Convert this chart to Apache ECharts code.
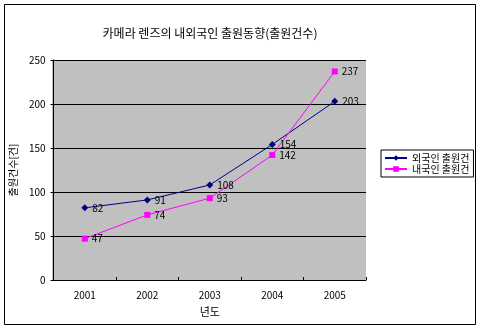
<!DOCTYPE html>
<html><head><meta charset="utf-8">
<script src="https://cdn.jsdelivr.net/npm/echarts@6/dist/echarts.min.js"></script>
<style>html,body{margin:0;padding:0;background:#fff}#c{width:480px;height:329px}</style>
</head><body><div id="c"></div>
<script>
const categories = ['2001','2002','2003','2004','2005'];
const foreignApps = [82, 91, 108, 154, 203];
const domesticApps = [47, 74, 93, 142, 237];
const seriesNames = ['외국인 출원건', '내국인 출원건'];
const titleText = '카메라 렌즈의 내외국인 출원동향(출원건수)';
const yName = '출원건수[건]';
const xName = '년도';

const font = "'Noto Sans CJK KR', 'DejaVu Sans', sans-serif";
const chart = echarts.init(document.getElementById('c'));
chart.setOption({
  animation: false,
  textStyle: {fontFamily: font},
  title: {text: titleText, left: 205, top: 22, textAlign: 'center',
    textStyle: {fontSize: 12, fontWeight: 'normal', color: '#000', fontFamily: font}},
  grid: {left: 52, top: 60, width: 314, height: 220},
  legend: {
    left: 381, top: 150, orient: 'vertical', itemGap: 1, itemWidth: 22, itemHeight: 7,
    padding: [3, 4, 3, 3], borderColor: '#000', borderWidth: 1, backgroundColor: '#fff',
    textStyle: {fontSize: 10, color: '#000'},
    data: seriesNames
  },
  graphic: [{type: 'rect', shape: {x: 4.5, y: 4.5, width: 471, height: 320},
    style: {fill: null, stroke: '#000', lineWidth: 1}, silent: true, z: -10},
    {type: 'rect', shape: {x: 52, y: 60, width: 314, height: 220},
    style: {fill: '#c0c0c0'}, silent: true, z: -5}],
  xAxis: {
    type: 'category', data: categories, boundaryGap: true,
    name: xName, nameLocation: 'middle', nameGap: 26,
    nameTextStyle: {fontSize: 11, color: '#000'},
    axisLine: {lineStyle: {color: '#000'}},
    axisTick: {show: true, inside: true, length: 3, lineStyle: {color: '#000'}},
    axisLabel: {fontSize: 10, color: '#000', margin: 10}
  },
  yAxis: {
    type: 'value', min: 0, max: 250, interval: 50,
    name: yName, nameLocation: 'middle', nameGap: 30, nameRotate: 90,
    nameTextStyle: {fontSize: 10, color: '#000'},
    axisLine: {show: true, lineStyle: {color: '#000'}},
    axisTick: {show: true, length: 3, lineStyle: {color: '#000'}},
    axisLabel: {fontSize: 10, color: '#000', margin: 8},
    splitLine: {show: true, lineStyle: {color: '#000', width: 1}}
  },
  series: [
    {name: seriesNames[0], type: 'line', data: foreignApps, symbol: 'diamond', symbolSize: 7,
      itemStyle: {color: '#000080'}, lineStyle: {color: '#000080', width: 1},
      label: {show: true, position: 'right', fontSize: 10, color: '#000', distance: 4}},
    {name: seriesNames[1], type: 'line', data: domesticApps, symbol: 'rect', symbolSize: 6,
      itemStyle: {color: '#ff00ff'}, lineStyle: {color: '#ff00ff', width: 1},
      label: {show: true, position: 'right', fontSize: 10, color: '#000', distance: 4}}
  ]
});
</script></body></html>
